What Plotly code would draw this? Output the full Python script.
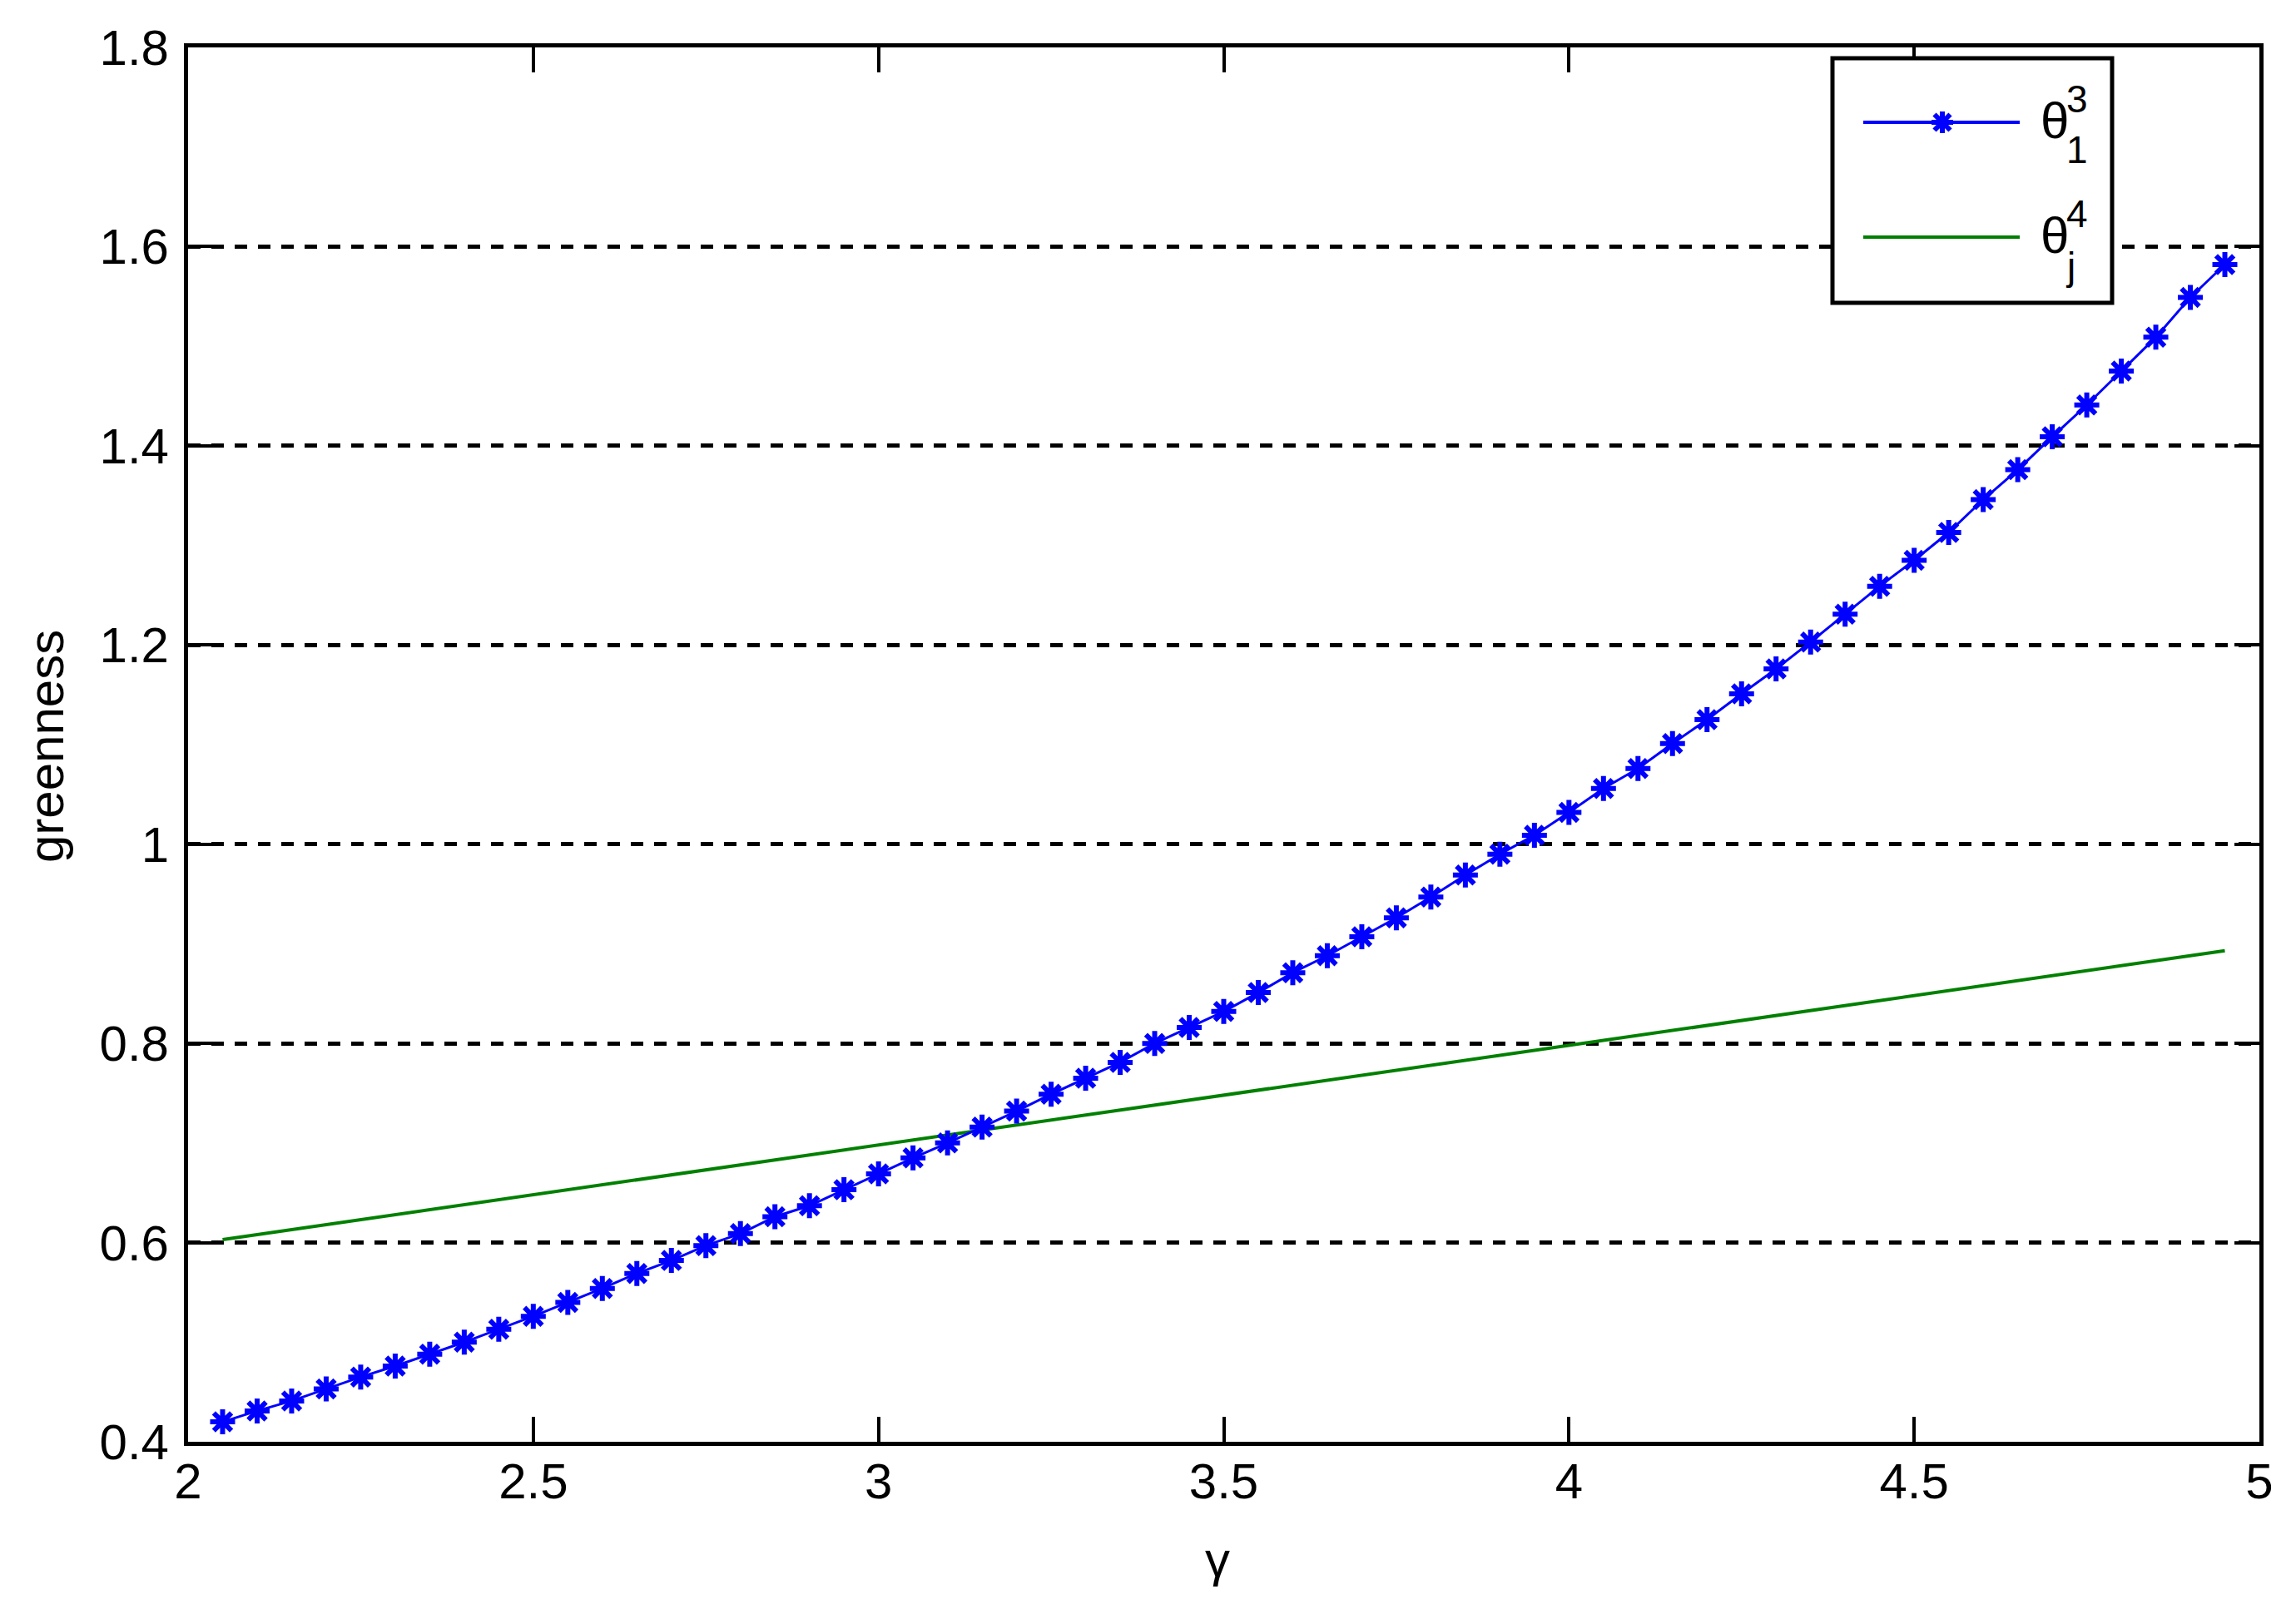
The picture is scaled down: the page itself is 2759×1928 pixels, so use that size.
import plotly.graph_objects as go

# ---- data ----
gamma = [2.05, 2.10, 2.15, 2.20, 2.25, 2.30, 2.35, 2.40, 2.45, 2.50,
         2.55, 2.60, 2.65, 2.70, 2.75, 2.80, 2.85, 2.90, 2.95, 3.00,
         3.05, 3.10, 3.15, 3.20, 3.25, 3.30, 3.35, 3.40, 3.45, 3.50,
         3.55, 3.60, 3.65, 3.70, 3.75, 3.80, 3.85, 3.90, 3.95, 4.00,
         4.05, 4.10, 4.15, 4.20, 4.25, 4.30, 4.35, 4.40, 4.45, 4.50,
         4.55, 4.60, 4.65, 4.70, 4.75, 4.80, 4.85, 4.90, 4.95]

theta_1_3 = [0.420, 0.431, 0.441, 0.453, 0.465, 0.476, 0.488, 0.500, 0.513, 0.526,
             0.540, 0.554, 0.569, 0.582, 0.597, 0.609, 0.626, 0.637, 0.653, 0.669,
             0.685, 0.700, 0.716, 0.732, 0.749, 0.765, 0.781, 0.800, 0.816, 0.832,
             0.851, 0.871, 0.888, 0.907, 0.926, 0.947, 0.969, 0.990, 1.009, 1.032,
             1.056, 1.076, 1.101, 1.125, 1.151, 1.176, 1.203, 1.231, 1.259, 1.285,
             1.313, 1.346, 1.376, 1.409, 1.441, 1.475, 1.509, 1.549, 1.582]

theta_j_4 = [0.603, 0.608, 0.613, 0.618, 0.623, 0.628, 0.633, 0.638, 0.643, 0.648,
             0.653, 0.658, 0.663, 0.668, 0.673, 0.678, 0.683, 0.688, 0.693, 0.698,
             0.703, 0.708, 0.713, 0.718, 0.723, 0.728, 0.733, 0.738, 0.743, 0.748,
             0.753, 0.758, 0.763, 0.768, 0.773, 0.778, 0.783, 0.788, 0.793, 0.798,
             0.803, 0.808, 0.813, 0.818, 0.823, 0.828, 0.833, 0.838, 0.843, 0.848,
             0.853, 0.858, 0.863, 0.868, 0.873, 0.878, 0.883, 0.888, 0.893]

x_ticks = [2, 2.5, 3, 3.5, 4, 4.5, 5]
x_tick_labels = ["2", "2.5", "3", "3.5", "4", "4.5", "5"]
y_ticks = [0.4, 0.6, 0.8, 1.0, 1.2, 1.4, 1.6, 1.8]
y_tick_labels = ["0.4", "0.6", "0.8", "1", "1.2", "1.4", "1.6", "1.8"]

# ---- layout geometry (page pixels) ----
W, H = 2759, 1928
BODY = 8  # default page body margin
L, R, T, B = 226, 2715, 57, 1733
FONT = "Liberation Sans, Arial, sans-serif"
BLUE = "#0000ff"
GREEN = "#008000"


def px(xp):
    return (xp - L) / (R - L)


def py(yp):
    return (B - yp) / (B - T)


MARKER = dict(symbol="asterisk-open", size=25, color=BLUE,
              line=dict(color=BLUE, width=6))

fig = go.Figure()

fig.add_trace(go.Scatter(
    x=gamma, y=theta_j_4, mode="lines",
    line=dict(color=GREEN, width=4), showlegend=False, hoverinfo="skip"))

fig.add_trace(go.Scatter(
    x=gamma, y=theta_1_3, mode="lines+markers",
    line=dict(color=BLUE, width=3), marker=MARKER,
    showlegend=False, hoverinfo="skip"))

# ---- custom legend (drawn above the grid) ----
shapes = []


def seg(x0, y0, x1, y1, color, width):
    shapes.append(dict(type="line", xref="paper", yref="paper",
                       x0=px(x0), x1=px(x1), y0=py(y0), y1=py(y1),
                       line=dict(color=color, width=width), layer="above"))


shapes.append(dict(type="rect", xref="paper", yref="paper",
                   x0=px(2202), x1=px(2538), y0=py(70), y1=py(364),
                   line=dict(color="black", width=5), fillcolor="white", layer="above"))
seg(2239, 147, 2427, 147, BLUE, 4)
seg(2239, 285, 2427, 285, GREEN, 4)

# legend asterisk marker
mx, my, a, d = 2334, 147, 13, 9.5
seg(mx - a, my, mx + a, my, BLUE, 6)
seg(mx, my - a, mx, my + a, BLUE, 6)
seg(mx - d, my - d, mx + d, my + d, BLUE, 6)
seg(mx - d, my + d, mx + d, my - d, BLUE, 6)

annotations = []


def txt(t, xp, yp, size, angle=0):
    annotations.append(dict(text=t, xref="paper", yref="paper",
                            x=px(xp), y=py(yp), xanchor="center", yanchor="middle",
                            showarrow=False, textangle=angle,
                            font=dict(family=FONT, size=size, color="black")))


txt("θ", 2469, 145, 62)
txt("3", 2496, 119, 46)
txt("1", 2496, 180, 46)
txt("θ", 2469, 282, 62)
txt("4", 2496, 257, 46)
txt("j", 2488, 320, 46)

# axis titles
txt("greenness", 55, 897, 60, angle=-90)
txt("γ", 1463, 1874, 60)

fig.update_layout(
    width=W - 2 * BODY, height=H - 2 * BODY,
    margin=dict(l=L - BODY, r=W - R - BODY, t=T - BODY, b=H - B - BODY, pad=0),
    paper_bgcolor="white", plot_bgcolor="white",
    font=dict(family=FONT, size=60, color="black"),
    shapes=shapes, annotations=annotations,
    showlegend=False,
)

fig.update_xaxes(
    range=[2, 5], tickmode="array", tickvals=x_ticks, ticktext=x_tick_labels,
    showgrid=False, zeroline=False,
    showline=True, linecolor="black", linewidth=5, mirror="ticks",
    ticks="inside", ticklen=30, tickwidth=4, tickcolor="black",
    ticklabelstandoff=-9,
    tickfont=dict(family=FONT, size=60, color="black"),
)
fig.update_yaxes(
    range=[0.4, 1.8], tickmode="array", tickvals=y_ticks, ticktext=y_tick_labels,
    showgrid=True, gridcolor="black", gridwidth=4.5, griddash="15px,13px",
    zeroline=False,
    showline=True, linecolor="black", linewidth=5, mirror="ticks",
    ticks="inside", ticklen=30, tickwidth=4, tickcolor="black",
    ticklabelstandoff=6,
    tickfont=dict(family=FONT, size=60, color="black"),
)

fig.write_html("out.html")
